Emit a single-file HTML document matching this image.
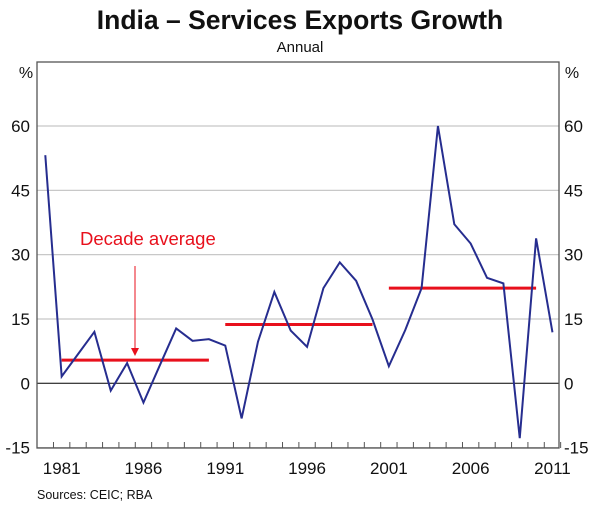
<!DOCTYPE html>
<html><head><meta charset="utf-8"><style>
body{margin:0;background:#fff;}
svg{display:block;font-family:"Liberation Sans",Arial,sans-serif;}
</style></head><body>
<svg id="chart" width="600" height="513" viewBox="0 0 600 513">
<text x="300" y="29" text-anchor="middle" font-size="26.5" font-weight="bold" fill="#111">India – Services Exports Growth</text>
<text x="300" y="52" text-anchor="middle" font-size="15" fill="#111">Annual</text>
<text x="26" y="78" text-anchor="middle" font-size="16" fill="#111">%</text>
<text x="572" y="78" text-anchor="middle" font-size="16" fill="#111">%</text>
<g id="grid"></g>
<g id="marks"></g>
<rect x="37" y="62" width="522" height="386" fill="none" stroke="#555" stroke-width="1.3"/>
<g id="axes"></g>
<text x="37" y="499" font-size="12.5" fill="#111">Sources: CEIC; RBA</text>
</svg>
<script>
const years=[1980,1981,1982,1983,1984,1985,1986,1987,1988,1989,1990,1991,1992,1993,1994,1995,1996,1997,1998,1999,2000,2001,2002,2003,2004,2005,2006,2007,2008,2009,2010,2011];
const growth=[53.2,1.6,6.8,12.0,-1.7,4.7,-4.5,4.2,12.8,9.9,10.3,8.8,-8.2,9.7,21.3,12.3,8.5,22.2,28.2,23.9,14.9,4.0,12.4,22.2,60,37.1,32.6,24.6,23.3,-12.8,33.8,11.9];
const avgStart=[1981,1991,2001];
const avgEnd=[1990,2000,2010];
const avgValues=[5.4,13.7,22.2];
const yTicks=[-15,0,15,30,45,60];
const xLabels=[1981,1986,1991,1996,2001,2006,2011];
const NS='http://www.w3.org/2000/svg';
const X=y=>45.3+(y-1980)*16.36;
const Y=v=>383.3-v*4.288;
function mk(tag,attrs,parent){const e=document.createElementNS(NS,tag);for(const k in attrs)e.setAttribute(k,attrs[k]);document.getElementById(parent).appendChild(e);return e;}
yTicks.forEach(v=>{
  const g=mk('line',{x1:37,x2:559,y1:Y(v),y2:Y(v),stroke:v===0?'#000':'#c8c8c8','stroke-width':v===0?1:1.2},'grid');
  
  
  const l=mk('text',{x:30,y:Y(v)+6,'text-anchor':'end','font-size':17,fill:'#111'},'axes');l.textContent=v;
  
  
  const r=mk('text',{x:564,y:Y(v)+6,'text-anchor':'start','font-size':17,fill:'#111'},'axes');r.textContent=v;
  
  
});
for(let y=1980;y<=2011;y++){
  const t=mk('line',{x1:X(y)+8.18,x2:X(y)+8.18,y1:448,y2:442,stroke:'#555','stroke-width':1},'axes');
  
  
}
xLabels.forEach(y=>{
  const t=mk('text',{x:X(y),y:474,'text-anchor':'middle','font-size':17,fill:'#111'},'axes');t.textContent=y;
  
  
});
avgValues.forEach((v,i)=>{
  const l=mk('line',{x1:X(avgStart[i]),x2:X(avgEnd[i]),y1:Y(v),y2:Y(v),stroke:'#e8101c','stroke-width':3},'marks');
  
  
});
const p=mk('polyline',{points:years.map((y,i)=>X(y)+','+Y(growth[i])).join(' '),fill:'none',stroke:'#262d8f','stroke-width':2,'stroke-linejoin':'miter'},'marks');


const lab=mk('text',{x:80,y:245,'font-size':18.5,fill:'#e8101c'},'marks');lab.textContent='Decade average';


const ar=mk('line',{x1:135,x2:135,y1:266,y2:350,stroke:'#e8101c','stroke-width':1},'marks');


const ah=mk('polygon',{points:'131,348 139,348 135,356',fill:'#e8101c'},'marks');


</script>
</body></html>
